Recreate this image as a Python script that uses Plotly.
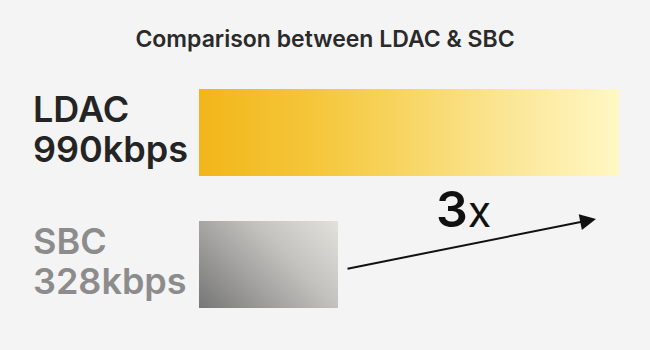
import numpy as np
import plotly.graph_objects as go

# ---- data ----
codecs = ["LDAC", "SBC"]
bitrates = [990, 328]           # kbps
rate_unit = "kbps"
ratio_label = ["3", "x"]
title_text = "Comparison between LDAC & SBC"

# ---- layout constants ----
W, H = 650, 350
BAR_LEFT_PX = 199
PX_PER_KBPS = 420 / 990
ROW0_PX = 132.5
ROW_STEP_PX = 132
BAR_H = 87 / ROW_STEP_PX
BG = "#F4F4F4"
FONT = "Inter"

label_colors = ["#242424", "#8C8C8C"]
ldac_scale = [[0, "#F2B619"], [0.3, "#F5C83E"], [0.5, "#F8D666"],
              [0.72, "#FBE594"], [1, "#FFF8C4"]]
sbc_scale = [[0, "#767676"], [0.38, "#A6A5A3"], [0.5, "#B4B3B0"],
             [0.62, "#C4C2BE"], [1, "#E3E1DC"]]
scales = [ldac_scale, sbc_scale]

fig = go.Figure()

# gradient-filled bars: each spans 0 .. bitrate on the x axis
nx, ny = 120, 40
for i, val in enumerate(bitrates):
    xe = np.linspace(0, val, nx + 1)
    ye = np.linspace(i - BAR_H / 2, i + BAR_H / 2, ny + 1)
    xc = (xe[:-1] + xe[1:]) / 2
    yc = (ye[:-1] + ye[1:]) / 2
    dx = xc * PX_PER_KBPS                       # px from left edge
    dy = (i + BAR_H / 2 - yc) * ROW_STEP_PX     # px from bottom edge
    w_px = val * PX_PER_KBPS
    h_px = BAR_H * ROW_STEP_PX
    if i == 0:
        z = np.tile(dx / w_px, (ny, 1))
    else:
        z = (dx[None, :] + dy[:, None]) / (w_px + h_px)
    fig.add_trace(go.Heatmap(
        x=xe, y=ye, z=z, zmin=0, zmax=1, colorscale=scales[i],
        zsmooth="best", showscale=False, hoverinfo="skip", name=codecs[i]))

# codec labels
annotations = []
for i, (name, val) in enumerate(zip(codecs, bitrates)):
    for txt, shift in ((name, 23.5), (f"{val}{rate_unit}", -16.5)):
        annotations.append(dict(
            text=txt, xref="paper", yref="y", x=31 / W, y=i, yshift=shift,
            xanchor="left", yanchor="middle", showarrow=False,
            font=dict(family=FONT, size=36, weight=600, color=label_colors[i])))

# ratio label
annotations.append(dict(
    text=f"{ratio_label[0]}<span style='font-size:43px;font-weight:400'>{ratio_label[1]}</span>",
    xref="paper", yref="paper", x=463.5 / W, y=1 - 209 / H,
    xanchor="center", yanchor="middle", showarrow=False,
    font=dict(family=FONT, size=50, weight=600, color="#111111")))

# arrow
annotations.append(dict(
    text="", xref="paper", yref="paper", x=596 / W, y=1 - 219 / H,
    axref="pixel", ayref="pixel", ax=346 - 596, ay=269 - 219,
    showarrow=True, arrowhead=2, arrowsize=1.6, arrowwidth=2,
    arrowcolor="#111111"))

x0 = -BAR_LEFT_PX / PX_PER_KBPS
x1 = (W - BAR_LEFT_PX) / PX_PER_KBPS
y_top = (0 - ROW0_PX) / ROW_STEP_PX
y_bot = (H - ROW0_PX) / ROW_STEP_PX

fig.update_layout(
    width=W, height=H, margin=dict(l=0, r=0, t=0, b=0),
    paper_bgcolor=BG, plot_bgcolor=BG,
    title=dict(text=title_text, x=0.5, xanchor="center", xref="container",
               y=1 - 39 / H, yanchor="middle", yref="container",
               font=dict(family=FONT, size=23, weight=600, color="#2A2A2A")),
    xaxis=dict(range=[x0, x1], visible=False, fixedrange=True),
    yaxis=dict(range=[y_bot, y_top], visible=False, fixedrange=True),
    annotations=annotations, showlegend=False)

fig.write_html("out.html")
